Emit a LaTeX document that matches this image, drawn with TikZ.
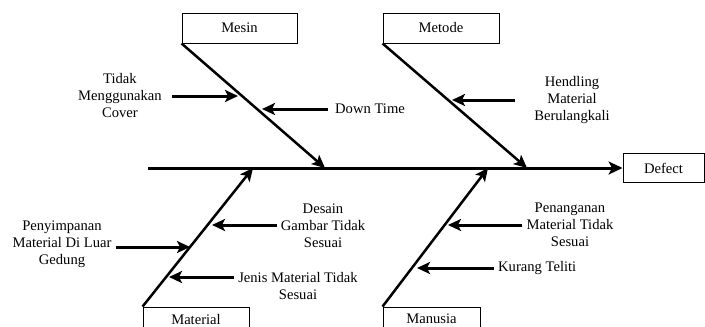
\documentclass[tikz,border=0pt]{standalone}
\usepackage{fontspec}
\setmainfont{Liberation Serif}
\usetikzlibrary{arrows.meta}

\begin{document}
\begin{tikzpicture}[
    x=1pt, y=-1pt,
    category/.style={
        rectangle,
        draw=black, line width=0.9pt, fill=white,
        inner sep=0pt,
        font=\fontsize{14.6}{17}\selectfont
    },
    causetext/.style={
        align=center, inner sep=4pt,
        font=\fontsize{14.6}{17}\selectfont
    },
    spine/.style={line width=3pt, -{Stealth[length=14pt,width=13pt,inset=3.5pt]}},
    bone/.style={line width=2.5pt, -{Stealth[length=13pt,width=12pt,inset=3pt]}},
    causearrow/.style={line width=3pt, -{Stealth[length=13pt,width=12pt,inset=3pt]}}
]
\clip (0,0) rectangle (705,327);

% Category boxes and effect
\node[category, minimum width=115pt, minimum height=30pt] (mesin) at (239.5,28) {Mesin};
\node[category, minimum width=116pt, minimum height=30pt] (metode) at (441,28) {Metode};
\node[category, minimum width=106pt, minimum height=30pt, text depth=6pt] (material) at (196,322) {Material};
\node[category, minimum width=97pt, minimum height=30pt, text depth=6pt] (manusia) at (431.5,322) {Manusia};
\node[category, minimum width=81pt, minimum height=29pt] (defect) at (663.5,168) {Defect};

% Points on the spine
\coordinate (spinestart) at (148,168);
\coordinate (mesintip) at (325,168);
\coordinate (metodetip) at (527,168);
\coordinate (materialtip) at (253,168);
\coordinate (manusiatip) at (488,168);

\draw[spine] (spinestart) -- (defect.west);
\draw[bone] (mesin.south west) -- (mesintip);
\draw[bone] (metode.south west) -- (metodetip);
\draw[bone] (material.north west) -- (materialtip);
\draw[bone] (manusia.north west) -- (manusiatip);

% Causes
\node[causetext] (cover) at (120,96) {Tidak\\Menggunakan\\Cover};
\node[causetext, anchor=west] (downtime) at (331,109) {Down Time};
\node[causetext] (hendling) at (572,100) {Hendling\\Material\\Berulangkali};
\node[causetext] (desain) at (323,226) {Desain\\Gambar Tidak\\Sesuai};
\node[causetext] (penyimpanan) at (62,244) {Penyimpanan\\Material Di Luar\\Gedung};
\node[causetext] (jenis) at (298,286) {Jenis Material Tidak\\Sesuai};
\node[causetext] (penanganan) at (570,225) {Penanganan\\Material Tidak\\Sesuai};
\node[causetext, anchor=west] (kurang) at (494,268) {Kurang Teliti};

\coordinate (covertip) at (238,96);
\coordinate (downtimetip) at (262,109);
\coordinate (hendlingtip) at (452,100);
\coordinate (desaintip) at (212,225);
\coordinate (penyimpanantip) at (190,247);
\coordinate (jenistip) at (169,277);
\coordinate (penanganantip) at (448,225);
\coordinate (kurangtip) at (417,268);

\draw[causearrow, shorten <=6pt] (covertip -| cover.east) -- (covertip);
\draw[causearrow, shorten <=3pt] (downtimetip -| downtime.west) -- (downtimetip);
\draw[causearrow, shorten <=15pt] (hendlingtip -| hendling.west) -- (hendlingtip);
\draw[causearrow] (desaintip -| desain.west) -- (desaintip);
\draw[causearrow] (penyimpanantip -| penyimpanan.east) -- (penyimpanantip);
\draw[causearrow] (jenistip -| jenis.west) -- (jenistip);
\draw[causearrow] (penanganantip -| penanganan.west) -- (penanganantip);
\draw[causearrow] (kurangtip -| kurang.west) -- (kurangtip);

\end{tikzpicture}
\end{document}
